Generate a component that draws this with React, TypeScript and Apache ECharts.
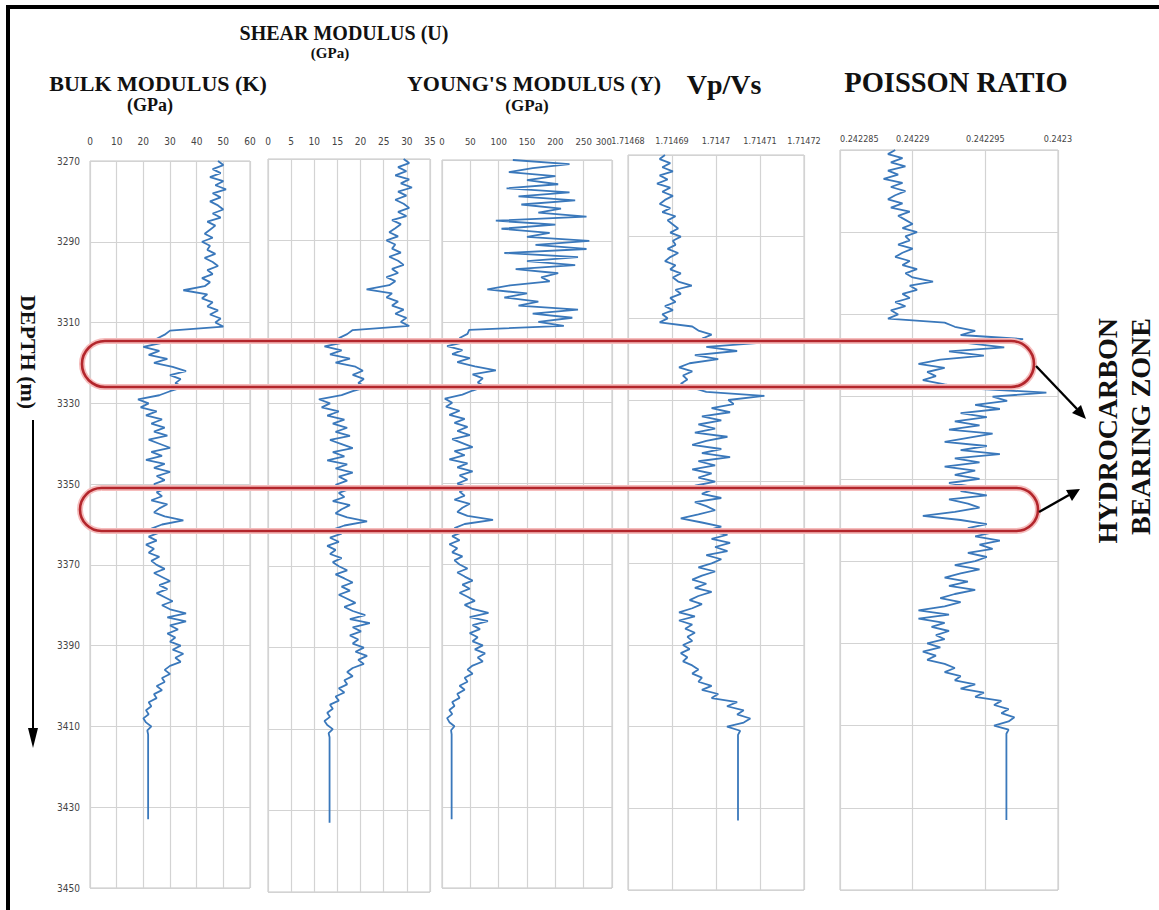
import React, { useEffect, useRef } from "react";
import * as echarts from "echarts";

// Depth samples (m): 1 m steps from 3270 to 3412, then the end of the log
const DEPTH_TOP = 3270;
const DEPTH_BOTTOM = 3450;
const DEPTH: number[] = [];
for (let d = 3270; d <= 3412; d++) DEPTH.push(d);
DEPTH.push(3433);

const DEPTH_TICKS = [3270, 3290, 3310, 3330, 3350, 3370, 3390, 3410, 3430, 3450];

// Bulk modulus K (GPa)
const BULK = [
  48, 50, 46, 49, 45, 50, 47, 51, 46, 49,
  45, 48, 50, 46, 49, 44, 47, 45, 43, 46,
  42, 45, 44, 47, 43, 46, 48, 44, 46, 42,
  45, 43, 35, 44, 42, 46, 44, 48, 45, 49,
  47, 50, 30, 28, 25, 27, 20, 26, 22, 29,
  24, 31, 36, 30, 34, 32, 35, 30, 26, 18,
  22, 19, 25, 21, 27, 23, 28, 24, 29, 22,
  26, 30, 23, 27, 21, 28, 24, 30, 25, 28,
  24, 29, 25, 27, 23, 29, 26, 24, 28, 35,
  27, 23, 26, 22, 25, 21, 24, 22, 26, 23,
  25, 28, 24, 27, 30, 26, 29, 25, 28, 31,
  27, 30, 36, 29, 36, 30, 33, 29, 32, 30,
  34, 31, 35, 32, 34, 30, 28, 30, 27, 28,
  25, 27, 24, 25, 22, 23, 21, 22, 20, 21,
  23, 21.5, 21.8, 21.8,
];

// Shear modulus U (GPa)
const SHEAR = [
  29.3, 30.5, 28.1, 29.9, 27.5, 30.5, 28.7, 31.1, 28.1, 29.9,
  27.5, 29.3, 30.5, 28.1, 29.9, 26.8, 28.7, 27.5, 26.2, 28.1,
  25.6, 27.5, 26.8, 28.7, 26.2, 28.1, 29.3, 26.8, 28.1, 25.6,
  27.5, 26.2, 21.3, 26.8, 25.6, 28.1, 26.8, 29.3, 27.5, 29.9,
  28.7, 30.5, 18.3, 17.1, 15.3, 16.5, 12.2, 15.9, 13.4, 17.7,
  14.6, 18.9, 20.5, 18.3, 20.7, 19.5, 21.4, 18.3, 15.9, 11.0,
  13.4, 11.6, 15.3, 12.8, 16.5, 14.0, 17.1, 14.6, 17.7, 13.4,
  15.9, 18.3, 14.0, 16.5, 12.8, 17.1, 14.6, 18.3, 15.3, 17.1,
  14.6, 17.7, 15.3, 16.5, 14.0, 17.7, 15.9, 14.6, 17.1, 21.4,
  16.5, 14.0, 15.9, 13.4, 15.3, 12.8, 14.6, 13.4, 15.9, 14.0,
  15.3, 17.1, 14.6, 16.5, 18.3, 15.9, 17.7, 15.3, 17.1, 18.9,
  16.5, 18.3, 21.0, 17.7, 22.0, 18.3, 20.1, 17.7, 19.5, 18.3,
  20.7, 18.9, 21.4, 19.5, 20.7, 18.3, 17.1, 18.3, 16.5, 17.1,
  15.3, 16.5, 14.6, 15.3, 13.4, 14.0, 12.8, 13.4, 12.2, 12.8,
  14.0, 13.1, 13.3, 13.3,
];

// Young's modulus Y (GPa)
const YOUNG = [
  125, 225, 160, 118, 200, 150, 205, 114, 225, 135,
  235, 140, 210, 170, 255, 95, 200, 105, 190, 150,
  260, 165, 255, 110, 240, 150, 235, 130, 205, 175,
  190, 120, 80, 150, 110, 170, 135, 240, 160, 230,
  170, 215, 48, 45, 31, 40, 9, 36, 18, 49,
  27, 58, 95, 54, 72, 63, 76, 54, 36, 5,
  18, 7, 31, 13, 40, 22, 45, 27, 49, 18,
  36, 54, 22, 40, 13, 45, 27, 54, 31, 45,
  27, 49, 31, 40, 22, 49, 36, 27, 45, 90,
  40, 22, 36, 18, 31, 13, 27, 18, 36, 22,
  31, 45, 27, 40, 54, 36, 49, 31, 45, 58,
  40, 54, 82, 49, 81, 54, 67, 49, 63, 54,
  72, 58, 76, 63, 72, 54, 45, 54, 40, 45,
  31, 40, 27, 31, 18, 22, 13, 18, 9, 13,
  22, 16, 17, 17,
];

// Vp/Vs ratio
const VPVS = [
  1.7146884, 1.7146872, 1.7146896, 1.7146878, 1.7146902, 1.7146872, 1.714689, 1.7146866, 1.7146896, 1.7146878,
  1.7146902, 1.7146884, 1.7146872, 1.7146896, 1.7146878, 1.7146908, 1.714689, 1.7146902, 1.7146914, 1.7146896,
  1.714692, 1.7146902, 1.7146908, 1.714689, 1.7146914, 1.7146896, 1.7146884, 1.7146908, 1.7146896, 1.714692,
  1.7146902, 1.7146914, 1.7146945, 1.7146908, 1.714692, 1.7146896, 1.7146908, 1.7146884, 1.7146902, 1.7146878,
  1.714689, 1.7146872, 1.7146946, 1.714696, 1.714699, 1.7146968, 1.71471, 1.7146978, 1.7147048, 1.7146952,
  1.7147005, 1.714694, 1.7146916, 1.7146946, 1.7146925, 1.7146935, 1.714692, 1.7146946, 1.7146978, 1.714711,
  1.7147028, 1.714704, 1.714699, 1.7147032, 1.7146968, 1.7147012, 1.714696, 1.7146998, 1.7146952, 1.7147026,
  1.7146978, 1.7146946, 1.7147012, 1.7146968, 1.7147032, 1.714696, 1.7146998, 1.7146946, 1.714699, 1.714696,
  1.7146998, 1.7146952, 1.714699, 1.7146968, 1.7147012, 1.7146952, 1.7146978, 1.7146998, 1.714696, 1.714692,
  1.7146968, 1.7147012, 1.7146978, 1.7147026, 1.714699, 1.7147032, 1.7146998, 1.7147026, 1.7146978, 1.7147012,
  1.714699, 1.714696, 1.7146998, 1.7146968, 1.7146946, 1.7146978, 1.7146952, 1.714699, 1.714696, 1.714694,
  1.7146968, 1.7146946, 1.7146916, 1.7146952, 1.7146916, 1.7146946, 1.714693, 1.7146952, 1.7146935, 1.7146946,
  1.7146925, 1.714694, 1.714692, 1.7146935, 1.7146925, 1.7146946, 1.714696, 1.7146946, 1.7146968, 1.714696,
  1.714699, 1.7146968, 1.7147005, 1.714699, 1.7147048, 1.7147025, 1.7147063, 1.7147048, 1.7147078, 1.7147063,
  1.7147025, 1.7147055, 1.714705, 1.714705,
];

// Poisson ratio
const POISSON = [
  0.2422888, 0.2422883, 0.2422893, 0.2422885, 0.2422895, 0.2422883, 0.242289, 0.242288, 0.2422893, 0.2422885,
  0.2422895, 0.2422888, 0.2422883, 0.2422893, 0.2422885, 0.2422898, 0.242289, 0.2422895, 0.24229, 0.2422893,
  0.2422903, 0.2422895, 0.2422898, 0.242289, 0.24229, 0.2422893, 0.2422888, 0.2422898, 0.2422893, 0.2422903,
  0.2422895, 0.24229, 0.2422914, 0.2422898, 0.2422903, 0.2422893, 0.2422898, 0.2422888, 0.2422895, 0.2422885,
  0.242289, 0.2422883, 0.2422922, 0.2422929, 0.2422943, 0.2422933, 0.2422976, 0.2422938, 0.2422963, 0.2422925,
  0.2422949, 0.2422919, 0.2422904, 0.2422922, 0.242291, 0.2422916, 0.2422907, 0.2422922, 0.2422938, 0.2422992,
  0.2422955, 0.2422965, 0.2422943, 0.242296, 0.2422933, 0.2422951, 0.2422929, 0.2422946, 0.2422925, 0.2422955,
  0.2422938, 0.2422922, 0.2422951, 0.2422933, 0.242296, 0.2422929, 0.2422946, 0.2422922, 0.2422943, 0.2422929,
  0.2422946, 0.2422925, 0.2422943, 0.2422933, 0.2422951, 0.2422925, 0.2422938, 0.2422946, 0.2422929, 0.2422907,
  0.2422933, 0.2422951, 0.2422938, 0.2422955, 0.2422943, 0.242296, 0.2422946, 0.2422955, 0.2422938, 0.2422951,
  0.2422943, 0.2422929, 0.2422946, 0.2422933, 0.2422922, 0.2422938, 0.2422925, 0.2422943, 0.2422929, 0.2422919,
  0.2422933, 0.2422922, 0.2422904, 0.2422925, 0.2422904, 0.2422922, 0.2422913, 0.2422925, 0.2422916, 0.2422922,
  0.242291, 0.2422919, 0.2422907, 0.2422916, 0.242291, 0.2422922, 0.2422929, 0.2422922, 0.2422933, 0.2422929,
  0.2422943, 0.2422933, 0.2422949, 0.2422943, 0.2422961, 0.2422956, 0.2422966, 0.2422961, 0.242297, 0.2422966,
  0.2422956, 0.2422966, 0.24229645, 0.24229645,
];

// Track scales (min, max, tick interval)
const TRACKS = [
  { name: "BULK MODULUS (K)", values: BULK, min: 0, max: 60, interval: 10 },
  { name: "SHEAR MODULUS (U)", values: SHEAR, min: 0, max: 35, interval: 5 },
  { name: "YOUNG'S MODULUS (Y)", values: YOUNG, min: 0, max: 300, interval: 50 },
  { name: "Vp/Vs", values: VPVS, min: 1.71468, max: 1.71472, interval: 0.00001 },
  { name: "POISSON RATIO", values: POISSON, min: 0.242285, max: 0.2423, interval: 0.000005 },
];

const GRIDS = [
  { left: 90, top: 161, width: 160, height: 727 },
  { left: 268, top: 159, width: 162, height: 733 },
  { left: 442, top: 160, width: 170, height: 728 },
  { left: 628, top: 155, width: 176, height: 735 },
  { left: 840, top: 150, width: 218, height: 740 },
];

const LABEL_SIZES = [10, 10, 9.5, 9, 9];
const LABEL_MARGINS = [15, 13, 14, 10, 7];

const LINE_COLOR = "#3a78bb";
const GRID_COLOR = "#d3d3d3";
const SERIF = "'Liberation Serif', 'Times New Roman', serif";
const NARROW = "'Liberation Sans Narrow', 'DejaVu Sans Condensed', 'Liberation Sans', sans-serif";

export default function App() {
  const ref = useRef<HTMLDivElement>(null);

  useEffect(() => {
    if (!ref.current) return;
    const chart = echarts.init(ref.current, undefined, { renderer: "svg" });

    const span = DEPTH_BOTTOM - DEPTH_TOP;
    const title = (text: string, x: number, y: number, size: number, extra: any = {}) => ({
      type: "text",
      z: 200,
      x,
      y,
      ...extra,
      style: { text, font: `bold ${size}px ${SERIF}`, fill: "#111", align: "center", verticalAlign: "middle", ...(extra.style || {}) },
    });

    const option: any = {
      animation: false,
      backgroundColor: "#ffffff",
      grid: GRIDS.map((g) => ({
        ...g,
        show: true,
        borderColor: "#c4c4c4",
        borderWidth: 1,
        backgroundColor: "transparent",
      })),
      xAxis: TRACKS.map((t, i) => ({
        gridIndex: i,
        type: "value",
        position: "top",
        min: t.min,
        max: t.max,
        interval: t.interval,
        axisLine: { show: false },
        axisTick: { show: false },
        axisLabel: {
          fontSize: LABEL_SIZES[i],
          color: "#444",
          fontFamily: NARROW,
          margin: LABEL_MARGINS[i],
          hideOverlap: false,
          alignMinLabel: i === 4 ? "left" : undefined,
          alignMaxLabel: i === 2 ? "right" : undefined,
        },
        splitLine: { show: true, lineStyle: { color: GRID_COLOR, width: 1.2 } },
      })),
      yAxis: TRACKS.map((t, i) => ({
        gridIndex: i,
        type: "value",
        inverse: true,
        min: 0,
        max: span,
        interval: 20,
        axisLine: { show: false },
        axisTick: { show: false },
        axisLabel: {
          show: i === 0,
          fontSize: 10,
          color: "#444",
          fontFamily: NARROW,
          margin: 10,
          formatter: (v: number) =>
            DEPTH_TICKS.indexOf(v + DEPTH_TOP) >= 0 ? String(v + DEPTH_TOP) : "",
        },
        splitLine: { show: true, lineStyle: { color: GRID_COLOR, width: 1.2 } },
      })),
      series: TRACKS.map((t, i) => ({
        name: t.name,
        type: "line",
        xAxisIndex: i,
        yAxisIndex: i,
        showSymbol: false,
        symbol: "none",
        z: 3,
        lineStyle: { color: LINE_COLOR, width: 1.8 },
        data: t.values.map((v, k) => [v, DEPTH[k] - DEPTH_TOP]),
      })),
      graphic: [
        // frame
        {
          type: "rect",
          z: 200,
          shape: { x: 8, y: 7, width: 1200, height: 1000 },
          style: { fill: "none", stroke: "#000", lineWidth: 4 },
        },
        // titles
        title("SHEAR MODULUS (U)", 344, 33, 20),
        title("(GPa)", 330, 53, 15),
        title("BULK MODULUS (K)", 158, 83, 22),
        title("(GPa)", 150, 105, 18),
        title("YOUNG'S MODULUS (Y)", 534, 83, 22),
        title("(GPa)", 527, 105, 17),
        title("Vp/Vs", 724, 84, 28),
        title("POISSON RATIO", 956, 82, 28.5),
        // depth label + arrow
        title("DEPTH (m)", 28, 352, 22, { rotation: -Math.PI / 2 }),
        { type: "line", z: 200, shape: { x1: 33, y1: 420, x2: 33, y2: 732 }, style: { stroke: "#000", lineWidth: 2 } },
        { type: "polygon", z: 200, shape: { points: [[33, 748], [28, 728], [38, 728]] }, style: { fill: "#000" } },
        // hydrocarbon zones
        { type: "rect", z: 150, shape: { x: 82, y: 341, width: 952, height: 46, r: 23 }, style: { fill: "none", stroke: "#f5bcbc", lineWidth: 6 } },
        { type: "rect", z: 151, shape: { x: 82, y: 341, width: 952, height: 46, r: 23 }, style: { fill: "none", stroke: "#b3262c", lineWidth: 2.6 } },
        { type: "rect", z: 150, shape: { x: 80, y: 488, width: 958, height: 43, r: 21.5 }, style: { fill: "none", stroke: "#f5bcbc", lineWidth: 6 } },
        { type: "rect", z: 151, shape: { x: 80, y: 488, width: 958, height: 43, r: 21.5 }, style: { fill: "none", stroke: "#b3262c", lineWidth: 2.6 } },
        // pointer arrows
        { type: "line", z: 200, shape: { x1: 1036, y1: 366, x2: 1077, y2: 409 }, style: { stroke: "#000", lineWidth: 2.4 } },
        { type: "polygon", z: 200, shape: { points: [[1086, 419], [1072, 413], [1081, 405]] }, style: { fill: "#000" } },
        { type: "line", z: 200, shape: { x1: 1039, y1: 512, x2: 1069, y2: 495 }, style: { stroke: "#000", lineWidth: 2.4 } },
        { type: "polygon", z: 200, shape: { points: [[1080, 489], [1072, 501], [1066, 490]] }, style: { fill: "#000" } },
        title("HYDROCARBON", 1107, 318, 28, { rotation: Math.PI / 2, style: { align: "right" } }),
        title("BEARING ZONE", 1140, 318, 28, { rotation: Math.PI / 2, style: { align: "right" } }),
      ],
    };

    chart.setOption(option);
    return () => chart.dispose();
  }, []);

  return (
    <div
      ref={ref}
      style={{ position: "fixed", left: 0, top: 0, width: 1159, height: 910 }}
    />
  );
}
